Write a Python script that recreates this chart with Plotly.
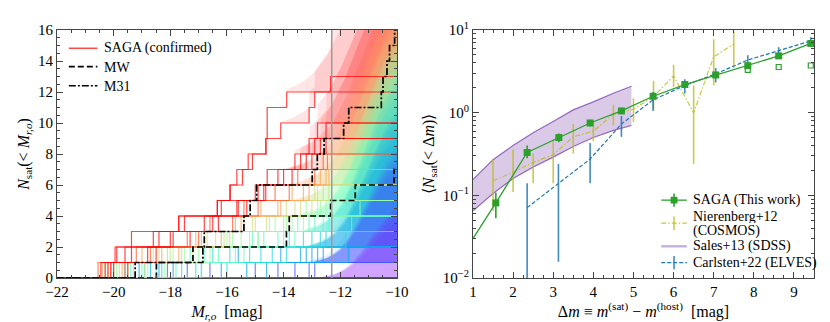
import numpy as np
import plotly.graph_objects as go
from plotly.subplots import make_subplots

FONT = "Liberation Serif, Times New Roman, serif"

# ---------------- left panel: satellite luminosity functions ----------------
# confirmed satellite magnitudes (M_r,o) for each SAGA host, hosts ordered by richness
HOST_SATS = [
    [], [], [], [],
    [-14.2], [-13.1], [-16.6], [-12.9], [-15.0], [-13.6], [-17.4], [-18.1],
    [-17.9, -13.4], [-16.2, -12.8], [-18.7, -14.1], [-15.3, -13.0],
    [-19.1, -15.6], [-16.9, -12.6], [-14.6, -13.2], [-18.4, -11.7],
    [-18.3, -15.9, -13.0], [-17.1, -14.4, -12.7], [-19.6, -16.5, -13.8],
    [-16.0, -14.8, -12.5], [-18.9, -15.2, -13.3], [-17.6, -13.9, -11.8],
    [-19.0, -16.8, -14.9, -12.9], [-18.5, -17.3, -14.0, -13.1], [-20.0, -16.3, -15.1, -12.6],
    [-17.8, -15.7, -13.6, -12.4], [-19.4, -18.1, -14.7, -11.6], [-16.9, -15.4, -14.2, -13.5],
    [-19.9, -17.5, -16.0, -14.3, -12.8], [-18.8, -17.9, -15.5, -13.7, -12.5],
    [-19.5, -16.6, -15.8, -14.5, -13.2], [-18.2, -17.0, -14.9, -13.3, -12.7],
    [-20.3, -18.6, -15.2, -13.9, -11.3],
    [-19.8, -18.4, -16.7, -15.1, -13.9, -12.6], [-20.2, -17.2, -16.1, -14.6, -13.4, -12.9],
    [-18.9, -17.6, -16.4, -14.0, -13.0, -12.4], [-19.3, -18.0, -15.9, -15.0, -13.6, -12.8],
    [-20.4, -19.0, -17.1, -15.7, -14.2, -13.3, -12.5],
    [-19.7, -18.3, -16.9, -15.4, -14.8, -13.7, -12.7],
    [-20.1, -17.7, -16.2, -15.5, -14.1, -13.1, -12.4],
    [-20.55, -19.2, -17.4, -16.6, -15.4, -14.3, -13.5, -12.6],
    [-19.6, -18.7, -17.0, -15.8, -14.9, -13.8, -12.9, -12.45],
    [-20.0, -19.89, -18.0, -16.8, -15.6, -14.63, -13.7, -13.0, -12.5],
    [-19.5, -18.5, -17.3, -16.3, -15.3, -14.7, -14.0, -13.2, -12.7],
    [-20.1, -19.95, -19.37, -17.7, -16.34, -15.0, -14.58, -13.6, -13.1, -12.8],
    [-20.2, -18.8, -17.9, -16.5, -15.65, -14.9, -14.2, -13.4, -12.9, -12.5],
    [-20.3, -19.6, -18.6, -17.5, -16.2, -15.88, -15.65, -15.1, -14.62, -14.58, -14.58, -13.89],
    [-20.45, -19.37, -18.4, -17.7, -16.34, -15.9, -15.45, -15.25, -14.63, -14.1, -13.1, -12.9, -12.34],
]
# expected additional satellites (incompleteness correction) reached by M_r,o = -10
HOST_EXTRA = [
    4.0, 4.6, 4.3, 3.6,
    6.4, 7.2, 6.0, 6.8, 6.2, 7.6, 6.6, 7.0,
    7.8, 7.2, 8.6, 7.0, 8.2, 8.8, 7.4, 8.4,
    8.8, 8.2, 9.6, 8.6, 9.2, 9.8,
    9.6, 9.0, 10.2, 9.4, 10.4, 9.0,
    10.0, 9.6, 10.4, 9.8, 10.2,
    10.4, 10.0, 10.8, 10.2,
    10.8, 10.4, 11.0,
    11.0, 10.6,
    11.2, 11.4,
    11.6, 11.4,
    12.0,
    12.5,
]
# magnitude where the correction starts, by host richness (0 ... 13 satellites)
CORR_ONSET = [-12.8, -13.0, -13.2, -13.3, -13.4, -13.5, -13.6, -13.7, -13.8, -13.9, -14.0, -14.1, -14.2, -14.2]
# shape of the correction between onset (u=0) and M_r,o = -10 (u=1)
CORR_U = [0.0, 0.1, 0.2, 0.3, 0.4, 0.5, 0.6, 0.7, 0.85, 1.0]
CORR_FRAC = [0.0, 0.02, 0.05, 0.1, 0.18, 0.3, 0.45, 0.62, 0.85, 1.0]
COLOR_SAT_MAX = 9  # richness at which the host colour saturates to red

MW_SATS = [-18.49, -17.2, -13.9, -13.8, -12.34, -11.47, -10.1]
M31_SATS = [-19.24, -16.85, -16.8, -15.4, -15.18, -14.95, -12.99, -12.81, -12.57,
            -11.88, -11.70, -10.55, -10.49, -10.35, -10.26, -10.08]
M_LIMIT = -12.3

# ---------------- right panel: <N_sat(<dm)> ----------------
SAGA_DM = [1.57, 2.35, 3.14, 3.92, 4.70, 5.49, 6.28, 7.05, 7.85, 8.62, 9.42]
SAGA_N = [0.081, 0.33, 0.50, 0.75, 1.05, 1.58, 2.19, 2.86, 3.70, 4.86, 6.88]
SAGA_LO = [0.053, 0.28, 0.44, 0.68, 0.96, 1.46, 2.01, 2.62, 3.40, 4.52, 6.45]
SAGA_HI = [0.108, 0.40, 0.56, 0.82, 1.14, 1.71, 2.38, 3.10, 4.00, 5.20, 7.35]
SAGA_START_DM, SAGA_START_N = 1.0, 0.030
SAGA_RAW_DM = [7.85, 8.62, 9.42]
SAGA_RAW_N = [3.30, 3.57, 3.72]

NIER_DM = [1.5, 2.0, 2.5, 3.0, 3.5, 4.0, 4.5, 5.0, 5.5, 6.0, 6.5, 7.0, 7.5]
NIER_N = [0.15, 0.19, 0.25, 0.31, 0.51, 0.60, 0.95, 1.10, 1.56, 2.78, 1.00, 4.74, 6.76]
NIER_LO = [0.065, 0.11, 0.14, 0.14, 0.32, 0.45, 0.70, 0.77, 1.09, 2.04, 0.24, 2.13, 3.47]
NIER_HI = [0.27, 0.36, 0.32, 0.47, 0.73, 0.80, 1.25, 1.49, 2.43, 3.80, 2.13, 7.72, 9.66]

SALES_DM = [1.0, 1.5, 2.0, 2.5, 3.0, 3.5, 4.0, 4.5, 4.95]
SALES_HI = [0.155, 0.27, 0.40, 0.57, 0.78, 1.08, 1.35, 1.72, 2.09]
SALES_LO = [0.065, 0.105, 0.16, 0.22, 0.29, 0.39, 0.50, 0.61, 0.70]

CARL_DM = [2.35, 3.13, 3.92, 4.70, 5.49, 6.28, 7.05, 7.85, 8.62, 9.42]
CARL_N = [0.071, 0.14, 0.275, 0.73, 1.43, 2.13, 2.95, 4.33, 5.66, 7.39]
CARL_LO = [0.005, 0.0157, 0.14, 0.51, 1.05, 1.71, 2.32, 3.63, 4.96, 6.50]
CARL_HI = [0.14, 0.24, 0.43, 0.91, 1.78, 2.54, 3.47, 4.96, 6.20, 8.20]

GREEN, OLIVE, BLUE, PURPLE = '#2ca02c', 'rgba(188,189,34,0.85)', '#1f77b4', '#9467bd'
MW_DASH, M31_DASH = '6px,3px', '7px,2px,2px,2px'
NIER_DASH, CARL_DASH = '5px,2px,1.5px,2px', '4px,2px'


def rainbow(t, a=1.0):
    # matplotlib 'rainbow' colormap
    r = min(1.0, abs(2 * t - 0.5))
    g = np.sin(np.pi * t)
    b = np.cos(np.pi * t / 2)
    return f"rgba({int(r * 255)},{int(g * 255)},{int(max(b, 0) * 255)},{a})"


def step_xy(sats):
    s = sorted(sats)
    x = [-22.0] + s + [-10.0]
    y = list(range(len(s) + 1)) + [len(s)]
    return x, y


fig = make_subplots(rows=1, cols=2)

# shaded incompleteness corrections (richest hosts first, poorer hosts layered on top)
for sats, extra in list(zip(HOST_SATS, HOST_EXTRA))[::-1]:
    n = len(sats)
    t = min(1.0, n / COLOR_SAT_MAX)
    onset = CORR_ONSET[n]
    m = np.linspace(onset, -10.0, 300)
    conf = np.searchsorted(np.sort(sats), m, side='left').astype(float)
    upper = conf + extra * np.interp((m - onset) / (-10.0 - onset), CORR_U, CORR_FRAC)
    fig.add_trace(go.Scatter(
        x=np.concatenate([m, m[::-1]]),
        y=np.concatenate([upper, conf[::-1]]),
        fill='toself', fillcolor=rainbow(t, 0.1), line=dict(width=0),
        mode='lines', hoverinfo='skip'
    ), row=1, col=1)

# confirmed luminosity functions
for sats in HOST_SATS:
    t = min(1.0, len(sats) / COLOR_SAT_MAX)
    x, y = step_xy(sats)
    fig.add_trace(go.Scatter(
        x=x, y=y, mode='lines', line=dict(color=rainbow(t, 0.72), width=1.2, shape='hv'),
        hoverinfo='skip'
    ), row=1, col=1)

x, y = step_xy(MW_SATS)
fig.add_trace(go.Scatter(x=x, y=y, mode='lines',
                         line=dict(color='black', width=1.7, dash=MW_DASH, shape='hv')), row=1, col=1)
x, y = step_xy(M31_SATS)
fig.add_trace(go.Scatter(x=x, y=y, mode='lines',
                         line=dict(color='black', width=1.7, dash=M31_DASH, shape='hv')), row=1, col=1)

fig.add_shape(type='line', x0=M_LIMIT, x1=M_LIMIT, y0=0, y1=1, xref='x', yref='y domain',
              line=dict(color='#9a9a9a', width=1.5), layer='above')

# ---------------- right panel ----------------
fig.add_trace(go.Scatter(
    x=SALES_DM + SALES_DM[::-1], y=SALES_HI + SALES_LO[::-1], fill='toself',
    fillcolor='rgba(148,103,189,0.35)', line=dict(width=0), mode='lines'
), row=1, col=2)
for edge in (SALES_HI, SALES_LO):
    fig.add_trace(go.Scatter(x=SALES_DM, y=edge, mode='lines', line=dict(color=PURPLE, width=1.2)),
                  row=1, col=2)

fig.add_trace(go.Scatter(
    x=NIER_DM, y=NIER_N, mode='lines', line=dict(color=OLIVE, width=1.2, dash=NIER_DASH),
    error_y=dict(type='data', symmetric=False,
                 array=[h - v for h, v in zip(NIER_HI, NIER_N)],
                 arrayminus=[v - l for v, l in zip(NIER_N, NIER_LO)],
                 color='rgba(188,189,34,0.8)', thickness=1.6, width=0)
), row=1, col=2)

fig.add_trace(go.Scatter(
    x=CARL_DM, y=CARL_N, mode='lines', line=dict(color=BLUE, width=1.2, dash=CARL_DASH),
    error_y=dict(type='data', symmetric=False,
                 array=[h - v for h, v in zip(CARL_HI, CARL_N)],
                 arrayminus=[v - l for v, l in zip(CARL_N, CARL_LO)],
                 color='rgba(31,119,180,0.85)', thickness=1.6, width=0)
), row=1, col=2)

fig.add_trace(go.Scatter(
    x=[SAGA_START_DM] + SAGA_DM, y=[SAGA_START_N] + SAGA_N, mode='lines',
    line=dict(color=GREEN, width=1.3)
), row=1, col=2)
fig.add_trace(go.Scatter(
    x=SAGA_DM, y=SAGA_N, mode='markers', marker=dict(symbol='square', size=7, color=GREEN),
    error_y=dict(type='data', symmetric=False,
                 array=[h - v for h, v in zip(SAGA_HI, SAGA_N)],
                 arrayminus=[v - l for v, l in zip(SAGA_N, SAGA_LO)],
                 color=GREEN, thickness=1.6, width=0)
), row=1, col=2)
fig.add_trace(go.Scatter(
    x=SAGA_RAW_DM, y=SAGA_RAW_N, mode='markers',
    marker=dict(symbol='square-open', size=5, color=GREEN, line=dict(width=1.2))
), row=1, col=2)


# ---------------- hand-placed legends (pixel positions -> paper coords) ----------------
def px(xp):
    return (xp - 49) / 768


def py(yp):
    return (270 - yp) / 258


def legend_line(x0, x1, y, **line):
    fig.add_shape(type='line', xref='paper', yref='paper', x0=px(x0), x1=px(x1), y0=py(y), y1=py(y),
                  line=line, layer='above')


def legend_tick(x, y0, y1, color):
    fig.add_shape(type='line', xref='paper', yref='paper', x0=px(x), x1=px(x), y0=py(y0), y1=py(y1),
                  line=dict(color=color, width=1.6), layer='above')


def legend_text(x, y, text, size=14):
    fig.add_annotation(xref='paper', yref='paper', x=px(x), y=py(y), text=text, showarrow=False,
                       xanchor='left', yanchor='middle', height=14, borderpad=0,
                       font=dict(family=FONT, size=size, color='black'))


legend_line(61, 90, 31, color='rgba(255,40,40,0.85)', width=1.5)
legend_text(96, 31, 'SAGA (confirmed)')
legend_line(61, 90, 50, color='black', width=1.7, dash=MW_DASH)
legend_text(96, 50, 'MW')
legend_line(61, 90, 70, color='black', width=1.7, dash=M31_DASH)
legend_text(96, 70, 'M31')

legend_line(662, 688, 189, color=GREEN, width=1.3)
legend_tick(675, 182, 196, GREEN)
fig.add_shape(type='rect', xref='paper', yref='paper', x0=px(671.5), x1=px(678.5), y0=py(185.5),
              y1=py(192.5), fillcolor=GREEN, line=dict(width=0), layer='above')
legend_text(693, 189, 'SAGA (This work)')

legend_line(662, 688, 213, color=OLIVE, width=1.2, dash=NIER_DASH)
legend_tick(675, 206, 220, 'rgba(188,189,34,0.8)')
legend_text(693, 205.5, 'Nierenberg+12')
legend_text(693, 221, '(COSMOS)')

legend_line(662, 688, 237, color='rgba(148,103,189,0.5)', width=2.5)
legend_text(693, 237, 'Sales+13 (SDSS)')

legend_line(662, 688, 254, color=BLUE, width=1.2, dash=CARL_DASH)
legend_tick(675, 247, 261, 'rgba(31,119,180,0.85)')
legend_text(693, 254, 'Carlsten+22 (ELVES)')

# ---------------- axes ----------------
axis_style = dict(
    showline=True, linecolor='#444', linewidth=1, mirror='allticks', ticks='inside',
    ticklen=6, tickwidth=1, tickcolor='#444', showgrid=False, zeroline=False,
    tickfont=dict(family=FONT, size=15, color='black'),
)
title_font = dict(family=FONT, size=16, color='black')

fig.update_xaxes(axis_style)
fig.update_yaxes(axis_style)

fig.update_xaxes(range=[-22, -10], dtick=2, domain=[0, 0.449],
                 minor=dict(ticks='inside', ticklen=3, tickcolor='#444', dtick=0.5),
                 title=dict(text='<i>M</i><sub><i>r,o</i></sub>  [mag]', font=title_font, standoff=6),
                 row=1, col=1)
fig.update_yaxes(range=[0, 16], dtick=2,
                 minor=dict(ticks='inside', ticklen=3, tickcolor='#444', dtick=0.5),
                 title=dict(text='<i>N</i><sub>sat</sub>(&lt; <i>M</i><sub><i>r,o</i></sub>)', font=title_font,
                            standoff=4),
                 row=1, col=1)

log_minor = [k * 10.0 ** e for e in (-2, -1, 0) for k in range(2, 10)]
fig.update_xaxes(range=[1, 9.5], dtick=1, domain=[0.5495, 1],
                 minor=dict(ticks='inside', ticklen=3, tickcolor='#444', dtick=0.25),
                 title=dict(text='Δ<i>m</i> ≡ <i>m</i><sup>(sat)</sup> − <i>m</i><sup>(host)</sup>  [mag]',
                            font=title_font, standoff=6),
                 row=1, col=2)
fig.update_yaxes(type='log', range=[-2, 1],
                 tickvals=[0.01, 0.1, 1, 10],
                 ticktext=['10<sup>−2</sup>', '10<sup>−1</sup>', '10<sup>0</sup>', '10<sup>1</sup>'],
                 minor=dict(ticks='inside', ticklen=3, tickcolor='#444', tickvals=log_minor),
                 title=dict(text='⟨<i>N</i><sub>sat</sub>(&lt; Δ<i>m</i>)⟩', font=title_font, standoff=4),
                 row=1, col=2)

fig.update_layout(
    width=830, height=322,
    margin=dict(l=49, r=13, t=12, b=52),
    plot_bgcolor='white', paper_bgcolor='white',
    font=dict(family=FONT, size=15, color='black'),
    showlegend=False,
)

fig.write_html("out.html")
